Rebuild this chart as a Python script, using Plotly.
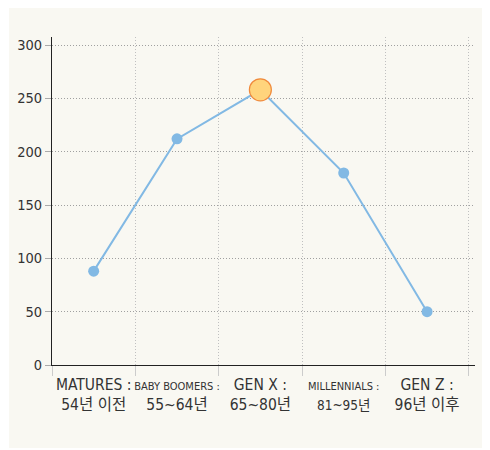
import plotly.graph_objects as go

categories = ["MATURES :<br>54년 이전",
              "<span style='font-size:11px'>BABY BOOMERS :</span><br>55~64년",
              "GEN X :<br>65~80년",
              "<span style='font-size:11px'>MILLENNIALS :</span><br><span style='font-size:13.5px'>81~95년</span>",
              "GEN Z :<br>96년 이후"]
values = [88, 212, 258, 180, 50]
highlight_index = 2
y_ticks = [0, 50, 100, 150, 200, 250, 300]

FONT = "DejaVu Sans Condensed, Liberation Sans Narrow, Noto Sans CJK KR, sans-serif"
BLUE = "#82b9e4"

sizes = [11] * len(values)
colors = [BLUE] * len(values)
line_colors = [BLUE] * len(values)
sizes[highlight_index] = 22
colors[highlight_index] = "#ffd47c"
line_colors[highlight_index] = "#f08a3c"

fig = go.Figure()
fig.add_trace(go.Scatter(
    x=categories, y=values, mode="lines+markers",
    line=dict(color=BLUE, width=2),
    marker=dict(size=sizes, color=colors, line=dict(color=line_colors, width=[0, 0, 1.2, 0, 0]), opacity=1),
    hoverinfo="skip", cliponaxis=False,
))

OFF = 8  # page body margin
L, R, T, B = 52 - OFF, 490 - (475 - OFF), 37 - OFF, 450 - (365 - OFF)
W, H = 490, 450
pw, ph = W - L - R, H - T - B
fig.add_shape(type="rect", xref="paper", yref="paper",
              x0=(9 - OFF - L) / pw, x1=(W - L) / pw,
              y0=(H - B - (448 - OFF)) / ph, y1=(H - B) / ph,
              fillcolor="#f9f8f2", line=dict(width=0), layer="below")

fig.update_layout(
    width=W, height=H, margin=dict(l=L, r=R, t=T, b=B, autoexpand=False),
    paper_bgcolor="white", plot_bgcolor="rgba(0,0,0,0)",
    showlegend=False,
    font=dict(family=FONT, size=14, color="#333"),
)
fig.update_xaxes(
    type="category", range=[-0.5, 4.575], tickson="boundaries",
    showgrid=True, gridcolor="#c0c0c0", griddash="1px,2px", gridwidth=1,
    ticks="outside", ticklen=10, tickcolor="#cccccc",
    showline=True, linecolor="#222", linewidth=1,
    tickangle=0, automargin=False, ticklabelstandoff=5,
    tickfont=dict(family=FONT, size=15.5, color="#333"),
    zeroline=False, fixedrange=True,
)
fig.update_yaxes(
    range=[0, 307.5], tickvals=y_ticks, ticktext=[str(v) for v in y_ticks],
    showgrid=True, gridcolor="#a0a0a0", griddash="1px,2px", gridwidth=1,
    ticks="outside", ticklen=6, tickcolor="#aaaaaa",
    showline=True, linecolor="#222", linewidth=1,
    zeroline=False, automargin=False,
    tickfont=dict(family=FONT, size=14.5, color="#333"),
)

fig.write_html("out.html")
